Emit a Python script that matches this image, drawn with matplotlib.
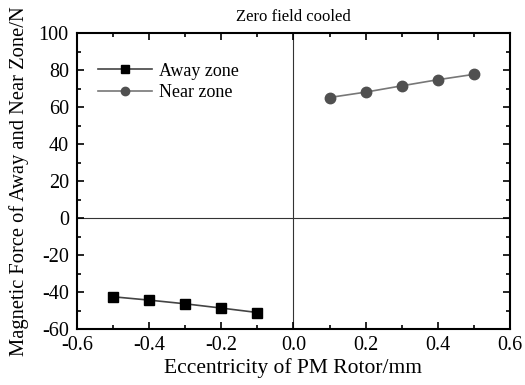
import matplotlib
matplotlib.use("Agg")
import matplotlib.pyplot as plt
from matplotlib.ticker import MultipleLocator

away_x = [-0.5, -0.4, -0.3, -0.2, -0.1]
away_y = [-42.5, -44.3, -46.3, -48.6, -51.0]
near_x = [0.1, 0.2, 0.3, 0.4, 0.5]
near_y = [65.2, 68.1, 71.5, 74.8, 77.7]

plt.rcParams['font.family'] = ['Liberation Serif', 'DejaVu Serif']
plt.rcParams['axes.unicode_minus'] = False

fig = plt.figure(figsize=(5.25, 3.85), dpi=100, facecolor='w')
ax = fig.add_axes([0.147, 0.145, 0.824, 0.769])

ax.axhline(0, color='#333333', lw=0.8, zorder=1)
ax.axvline(0, color='#333333', lw=0.8, zorder=1)

ax.plot(away_x, away_y, color='#444444', lw=1.2, marker='s', ms=6.5,
        mfc='black', mec='black', label='Away zone')
ax.plot(near_x, near_y, color='#777777', lw=1.2, marker='o', ms=7.5,
        mfc='#505050', mec='#505050', label='Near zone')

ax.set_xlim(-0.6, 0.6)
ax.set_ylim(-60, 100)
ax.xaxis.set_major_locator(MultipleLocator(0.2))
ax.xaxis.set_minor_locator(MultipleLocator(0.1))
ax.yaxis.set_major_locator(MultipleLocator(20))
ax.yaxis.set_minor_locator(MultipleLocator(10))
ax.tick_params(which='both', direction='in', top=True, right=True, width=1.2)
ax.tick_params(which='major', length=5, labelsize=14.5)
ax.tick_params(which='minor', length=3)
ax.tick_params(axis='y', pad=6)
ax.tick_params(axis='x', pad=5)
ax.set_xticks([-0.6, -0.4, -0.2, 0.0, 0.2, 0.4, 0.6])
ax.set_xticklabels(['-0.6', '-0.4', '-0.2', '0.0', '0.2', '0.4', '0.6'])
for s in ax.spines.values():
    s.set_linewidth(1.5)

ax.set_xlabel('Eccentricity of PM Rotor/mm', fontsize=15.5, labelpad=2)
ax.set_ylabel('Magnetic Force of Away and Near Zone/N', fontsize=14.8, labelpad=7)
ax.set_title('Zero field cooled', fontsize=12, pad=9)
ax.legend(loc='upper left', bbox_to_anchor=(0.01, 0.955), frameon=False,
          fontsize=13, handlelength=3.0, labelspacing=0.25, handletextpad=0.4,
          markerscale=0.8)

fig.savefig('out.png', dpi=100)
